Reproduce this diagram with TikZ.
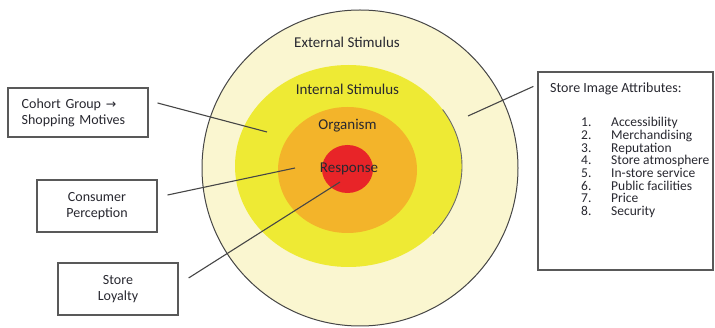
\documentclass[tikz,border=0pt]{standalone}
\usepackage{fontspec}
\setmainfont{Carlito}
\newfontfamily\arrowfont{DejaVu Sans}
\usepackage{tikz}
\usetikzlibrary{positioning}
\definecolor{outerCream}{RGB}{250,246,208}
\definecolor{innerYellow}{RGB}{238,234,52}
\definecolor{organismOrange}{RGB}{243,180,42}
\definecolor{responseRed}{RGB}{232,36,40}
\definecolor{lineGray}{RGB}{70,70,70}
\definecolor{textDark}{RGB}{40,40,48}
\tikzset{
	pointer/.style={draw=lineGray, line width=1.1pt},
	infobox/.style={draw=lineGray!90, line width=1.2pt, fill=white, text=textDark, font=\fontsize{14}{16}\selectfont, inner sep=0pt},
	ringlabel/.style={anchor=base, text=textDark, font=\fontsize{15}{18}\selectfont, inner sep=0pt},
	listitem/.style={anchor=base west, text=textDark, font=\fontsize{13.5}{15}\selectfont, inner sep=0pt}
}

\begin{document}
\begin{tikzpicture}[x=1pt, y=-1pt]
\useasboundingbox (0,0) rectangle (715,328);
% rings
\fill[outerCream] (360,168) circle [radius=158];
\draw[lineGray, line width=1pt] (360,168) circle [radius=158];
\fill[innerYellow] (348.5,166) ellipse [x radius=113.5, y radius=101];
\draw[lineGray!80, line width=.9pt] ([shift={(-34:113.5 and 101)}]348.5,166) arc [start angle=-34, end angle=42, x radius=113.5, y radius=101];
\fill[organismOrange] (347.5,170) ellipse [x radius=69.5, y radius=63];
\fill[responseRed] (347.5,169) ellipse [x radius=25.5, y radius=24];

\node[ringlabel] (external) at (347,48) {External Stimulus};
\node[ringlabel] (internal) at (347.5,95) {Internal Stimulus};
\node[ringlabel] (organism) at (347.5,130) {Organism};
\node[ringlabel] (response) at (349,173) {Response};

% boxes on the left
\node[infobox, minimum width=140pt, minimum height=49pt, text width=112.6pt, align=left] (cohort) at (78,112.5) {Cohort Group {\arrowfont\fontsize{12.5}{12.5}\selectfont →}\\Shopping Motives};
\node[infobox, minimum width=120pt, minimum height=52pt, align=center] (perception) at (97,206) {Consumer\\Perception};
\node[infobox, minimum width=120pt, minimum height=52pt, align=center] (loyalty) at (118,289) {Store\\Loyalty};

% box on the right
\node[infobox, minimum width=175pt, minimum height=198pt] (attrbox) at (625.5,171) {};
\node[listitem, font=\fontsize{14}{16}\selectfont] (attrtitle) at (550,92.5) {Store Image Attributes:};
\foreach \n/\attr in {1/Accessibility, 2/Merchandising, 3/Reputation, 4/Store atmosphere, 5/In-store service, 6/Public facilities, 7/Price, 8/Security}{
	\node[listitem] (num\n) at (581,{127+12.65*(\n-1)}) {\n.};
	\node[listitem] (attr\n) at (611,{127+12.65*(\n-1)}) {\attr};
}

% pointers
\coordinate (cohortTip) at (267,132);
\coordinate (perceptionTip) at (295,168);
\coordinate (loyaltyTip) at (340,182);
\coordinate (attrTip) at (468,116);
\draw[pointer] ([shift={(9,-9.5)}]cohort.east) -- (cohortTip);
\draw[pointer] ([shift={(10,-11)}]perception.east) -- (perceptionTip);
\draw[pointer] ([shift={(10,-11)}]loyalty.east) -- (loyaltyTip);
\draw[pointer] ([shift={(-4,15)}]attrbox.north west) -- (attrTip);
\end{tikzpicture}
\end{document}
